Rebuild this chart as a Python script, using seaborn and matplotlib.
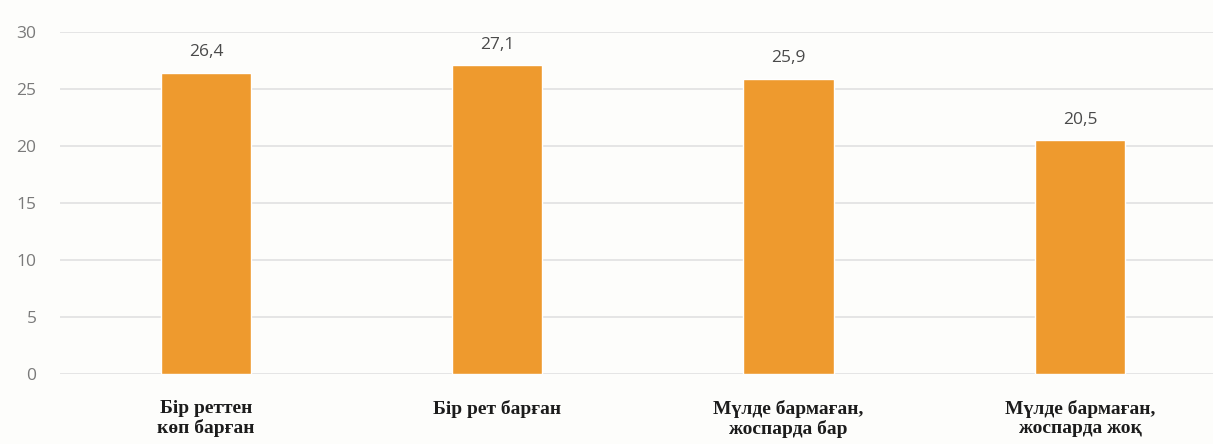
import matplotlib
matplotlib.use("Agg")
import matplotlib.pyplot as plt
import seaborn as sns
import pandas as pd

categories = ["Бір реттен\nкөп барған", "Бір рет барған", "Мүлде бармаған,\nжоспарда бар", "Мүлде бармаған,\nжоспарда жоқ"]
values = [26.4, 27.1, 25.9, 20.5]
yticks = [0, 5, 10, 15, 20, 25, 30]

sns.set_theme(style="white")
plt.rcParams['font.family'] = ['Open Sans', 'DejaVu Sans']

df = pd.DataFrame({"cat": categories, "val": values})

fig = plt.figure(figsize=(12.13, 4.44), dpi=100)
fig.patch.set_facecolor("#fdfdfb")
ax = fig.add_axes([0.0495, 0.158, 0.9505, 0.770])
ax.set_facecolor("#fdfdfb")

sns.barplot(data=df, x="cat", y="val", color="#EE9A2E", saturation=1, width=0.31, ax=ax, zorder=3)

ax.set_ylim(0, 30)
ax.set_xlim(-0.501, 3.457)
ax.set_yticks(yticks)
ax.set_yticklabels([str(t) for t in yticks], color="#7a7a7a", fontsize=12.5)
ax.yaxis.grid(True, color="#e3e3e3", linewidth=1.3, zorder=0)
ax.set_axisbelow(True)
for s in ax.spines.values():
    s.set_visible(False)
ax.tick_params(axis="y", length=0, pad=17)
ax.tick_params(axis="x", length=0, pad=19)
ax.set_xlabel("")
ax.set_ylabel("")
ax.set_xticks(range(len(categories)))
ax.set_xticklabels(categories, fontfamily="Liberation Serif", fontweight="bold", fontsize=14,
                   color="#1c1c1c", linespacing=1.1)

for i, v in enumerate(values):
    ax.annotate(f"{v:.1f}".replace(".", ","), (i, v), xytext=(0, 9), textcoords="offset points",
                ha="center", va="bottom", fontsize=12.5, color="#4a4a4a")

fig.savefig("out.png", dpi=100, facecolor=fig.get_facecolor())
